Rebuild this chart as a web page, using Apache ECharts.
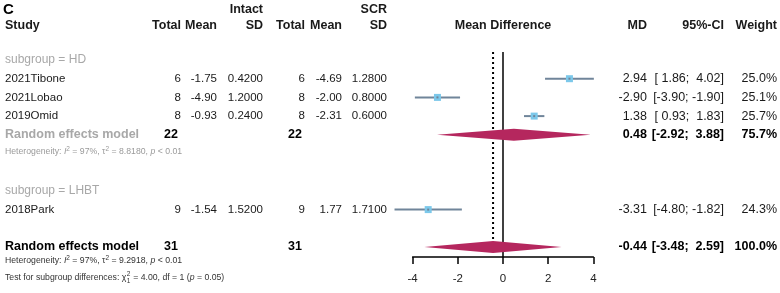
<!DOCTYPE html>
<html>
<head>
<meta charset="utf-8">
<script src="https://cdn.jsdelivr.net/npm/echarts@6/dist/echarts.min.js"></script>
<style>html,body{margin:0;padding:0;background:#fff}#c{width:780px;height:293px}</style>
</head>
<body>
<div id="c"></div>
<script>
// ---------- data ----------
const studies      = ['2021Tibone', '2021Lobao', '2019Omid', '2018Park'];
const studyRows    = [1, 2, 3, 8];
const intactTotal  = [6, 8, 8, 9];
const intactMean   = [-1.75, -4.90, -0.93, -1.54];
const intactSD     = [0.42, 1.20, 0.24, 1.52];
const scrTotal     = [6, 8, 8, 9];
const scrMean      = [-4.69, -2.00, -2.31, 1.77];
const scrSD        = [1.28, 0.80, 0.60, 1.71];
const md           = [2.94, -2.90, 1.38, -3.31];
const ciLow        = [1.86, -3.90, 0.93, -4.80];
const ciHigh       = [4.02, -1.90, 1.83, -1.82];
const weight       = [25.0, 25.1, 25.7, 24.3];

const pooledLabels = ['Random effects model', 'Random effects model'];
const pooledRows   = [4, 10];
const pooledTotalI = [22, 31];
const pooledTotalS = [22, 31];
const pooledMD     = [0.48, -0.44];
const pooledLow    = [-2.92, -3.48];
const pooledHigh   = [3.88, 2.59];
const pooledWeight = [75.7, 100.0];

const subgroupLabels = ['subgroup = HD', 'subgroup = LHBT'];
const subgroupRows   = [0, 7];
const xTicks = [-4, -2, 0, 2, 4];

// ---------- layout ----------
const ROW0 = 60, ROWH = 18.7, AXIS_Y = 257, H = 293;
const yMin = -ROW0 / ROWH, yMax = (AXIS_Y - ROW0) / ROWH;
const FONT = '"Liberation Sans", Arial, sans-serif';
const CI_COLOR = '#70859a', BOX_COLOR = '#7cc8ea', DIA_COLOR = '#b5275e';
const FS = 11.5, FS_R = 12.5, FS_B = 12.5, FS_H = 8.7;

const chart = echarts.init(document.getElementById('c'), null, {renderer: 'canvas'});

function fmt2(v){ return v.toFixed(2); }
function pad(v){ const s = v.toFixed(2); return v >= 0 ? ' ' + s : s; }
function ciStr(l, h){ return '[' + pad(l) + '; ' + pad(h) + ']'; }

const studyData = md.map((m, i) => [m, studyRows[i], ciLow[i], ciHigh[i], weight[i]]);
const pooledData = pooledMD.map((m, i) => [m, pooledRows[i], pooledLow[i], pooledHigh[i]]);

const option = {
  animation: false,
  grid: {left: 412.6, right: 780 - 593.4, top: 0, bottom: H - AXIS_Y, containLabel: false},
  xAxis: {
    type: 'value', min: -4, max: 4, interval: 2,
    axisLine: {show: true, onZero: false, lineStyle: {color: '#000', width: 1.5}},
    axisTick: {show: true, length: 7, lineStyle: {color: '#000', width: 1.5}},
    axisLabel: {fontFamily: FONT, fontSize: 11.5, color: '#222', margin: 16,
      formatter: v => xTicks.includes(v) ? String(v) : ''},
    splitLine: {show: false}
  },
  yAxis: {type: 'value', inverse: true, min: yMin, max: yMax, show: false},
  series: [
    { // line of no effect
      type: 'line', silent: true, symbol: 'none', z: 1,
      lineStyle: {color: '#000', width: 1.5},
      data: [[0, -0.43], [0, yMax]]
    },
    { // overall effect reference (dotted)
      type: 'line', silent: true, symbol: 'none', z: 1,
      lineStyle: {color: '#000', width: 2, type: [2, 3]},
      data: [[pooledMD[1], -0.43], [pooledMD[1], pooledRows[1] - 0.37]]
    },
    { // study CIs and boxes
      type: 'custom', z: 3,
      data: studyData,
      renderItem: (params, api) => {
        const c = api.coord([api.value(0), api.value(1)]);
        const a = api.coord([api.value(2), api.value(1)]);
        const b = api.coord([api.value(3), api.value(1)]);
        const s = 7;
        return {type: 'group', children: [
          {type: 'line', shape: {x1: a[0], y1: a[1], x2: b[0], y2: b[1]},
           style: {stroke: CI_COLOR, lineWidth: 2}},
          {type: 'rect', shape: {x: c[0] - s/2, y: c[1] - s/2, width: s, height: s},
           style: {fill: BOX_COLOR}},
          {type: 'rect', shape: {x: c[0] - 1, y: c[1] - 1, width: 2, height: 2},
           style: {fill: CI_COLOR}}
        ]};
      }
    },
    { // pooled diamonds
      type: 'custom', z: 3,
      data: pooledData,
      renderItem: (params, api) => {
        const c = api.coord([api.value(0), api.value(1)]);
        const a = api.coord([api.value(2), api.value(1)]);
        const b = api.coord([api.value(3), api.value(1)]);
        const h = 6;
        return {type: 'polygon',
          shape: {points: [[a[0], a[1]], [c[0], c[1] - h], [b[0], b[1]], [c[0], c[1] + h]]},
          style: {fill: DIA_COLOR}};
      }
    }
  ]
};
chart.setOption(option);

function rowPx(r){ return chart.convertToPixel({gridIndex: 0}, [0, r])[1]; }
function txt(x, r, text, opts){
  opts = opts || {};
  return {type: 'text', x: x, y: rowPx(r), silent: true,
    style: Object.assign({text: text, fill: '#1a1a1a', fontFamily: FONT, fontSize: FS,
      align: 'right', verticalAlign: 'middle'}, opts)};
}
const measureCtx = document.createElement('canvas').getContext('2d');
function textW(t, size, style){
  measureCtx.font = (style || '') + ' ' + size + 'px ' + FONT;
  return measureCtx.measureText(t).width;
}

const COL = {total1: 181, mean1: 217, sd1: 263, total2: 305, mean2: 342, sd2: 387, md: 647, ci: 724, w: 777};
const g = [];
const bold = {fontWeight: 'bold', fontSize: FS_B};
const right = {fontSize: FS_R};
// header rows
const rTop = (10 - ROW0) / ROWH, rHead = (26 - ROW0) / ROWH;
g.push(txt(3, rTop, 'C', {align: 'left', fontWeight: 'bold', fontSize: 15, fill: '#000'}));
g.push(txt(COL.sd1, rTop, 'Intact', bold));
g.push(txt(COL.sd2, rTop, 'SCR', bold));
g.push(txt(5, rHead, 'Study', Object.assign({align: 'left'}, bold)));
[['Total', COL.total1], ['Mean', COL.mean1], ['SD', COL.sd1], ['Total', COL.total2], ['Mean', COL.mean2], ['SD', COL.sd2], ['MD', COL.md], ['95%-CI', COL.ci], ['Weight', COL.w]]
  .forEach(([t, x]) => g.push(txt(x, rHead, t, bold)));
g.push(txt(503, rHead, 'Mean Difference', Object.assign({align: 'center'}, bold)));

// subgroup labels
subgroupLabels.forEach((t, i) => g.push(txt(5, subgroupRows[i], t, {align: 'left', fill: '#a8a8a8', fontSize: 12})));

// studies
studies.forEach((s, i) => {
  const r = studyRows[i];
  g.push(txt(5, r, s, {align: 'left'}));
  g.push(txt(COL.total1, r, String(intactTotal[i])));
  g.push(txt(COL.mean1, r, fmt2(intactMean[i])));
  g.push(txt(COL.sd1, r, intactSD[i].toFixed(4)));
  g.push(txt(COL.total2, r, String(scrTotal[i])));
  g.push(txt(COL.mean2, r, fmt2(scrMean[i])));
  g.push(txt(COL.sd2, r, scrSD[i].toFixed(4)));
  g.push(txt(COL.md, r, fmt2(md[i]), right));
  g.push(txt(COL.ci, r, ciStr(ciLow[i], ciHigh[i]), right));
  g.push(txt(COL.w, r, weight[i].toFixed(1) + '%', right));
});

// pooled rows
pooledLabels.forEach((t, i) => {
  const r = pooledRows[i];
  const sub = i === 0;
  const b = Object.assign({}, bold, {fill: '#000'});
  g.push(txt(5, r, t, Object.assign({align: 'left'}, bold, {fill: sub ? '#a8a8a8' : '#000'})));
  g.push(txt(COL.total1 - 3, r, String(pooledTotalI[i]), b));
  g.push(txt(COL.total2 - 3, r, String(pooledTotalS[i]), b));
  g.push(txt(COL.md, r, fmt2(pooledMD[i]), b));
  g.push(txt(COL.ci, r, ciStr(pooledLow[i], pooledHigh[i]), b));
  g.push(txt(COL.w, r, pooledWeight[i].toFixed(1) + '%', b));
});

// heterogeneity / test lines
function richStyle(color){
  return {
    n: {fontFamily: FONT, fontSize: FS_H, fill: color},
    i: {fontFamily: FONT, fontSize: FS_H, fontStyle: 'italic', fill: color},
    sup: {fontFamily: FONT, fontSize: 6.5, fill: color, padding: [0, 0, 6, 0]}
  };
}
function het(r, tau, color){
  return txt(5, r, '{n|Heterogeneity: }{i|I}{sup|2}{n| = 97%, τ}{sup|2}{n| = ' + tau + ', }{i|p}{n| < 0.01}',
    {align: 'left', rich: richStyle(color), fontSize: FS_H, fill: color});
}
g.push(het(4.92, '8.8180', '#9a9a9a'));
g.push(het(10.75, '9.2918', '#333'));
// test for subgroup differences, with stacked super/subscript after chi
const rTest = 11.65, testColor = '#333';
const pre = 'Test for subgroup differences: χ';
const preW = textW(pre, FS_H);
g.push(txt(5, rTest, pre, {align: 'left', fontSize: FS_H, fill: testColor}));
g.push({type: 'text', silent: true, x: 5 + preW + 0.5, y: rowPx(rTest) - 3.5,
  style: {text: '2', fontFamily: FONT, fontSize: 6.5, fill: testColor, align: 'left', verticalAlign: 'middle'}});
g.push({type: 'text', silent: true, x: 5 + preW + 0.5, y: rowPx(rTest) + 3,
  style: {text: '1', fontFamily: FONT, fontSize: 6.5, fill: testColor, align: 'left', verticalAlign: 'middle'}});
g.push(txt(5 + preW + 4.5, rTest, '{n| = 4.00, df = 1 (}{i|p}{n| = 0.05)}',
  {align: 'left', rich: richStyle(testColor), fontSize: FS_H, fill: testColor}));

chart.setOption({graphic: {elements: g}});
</script>
</body>
</html>
